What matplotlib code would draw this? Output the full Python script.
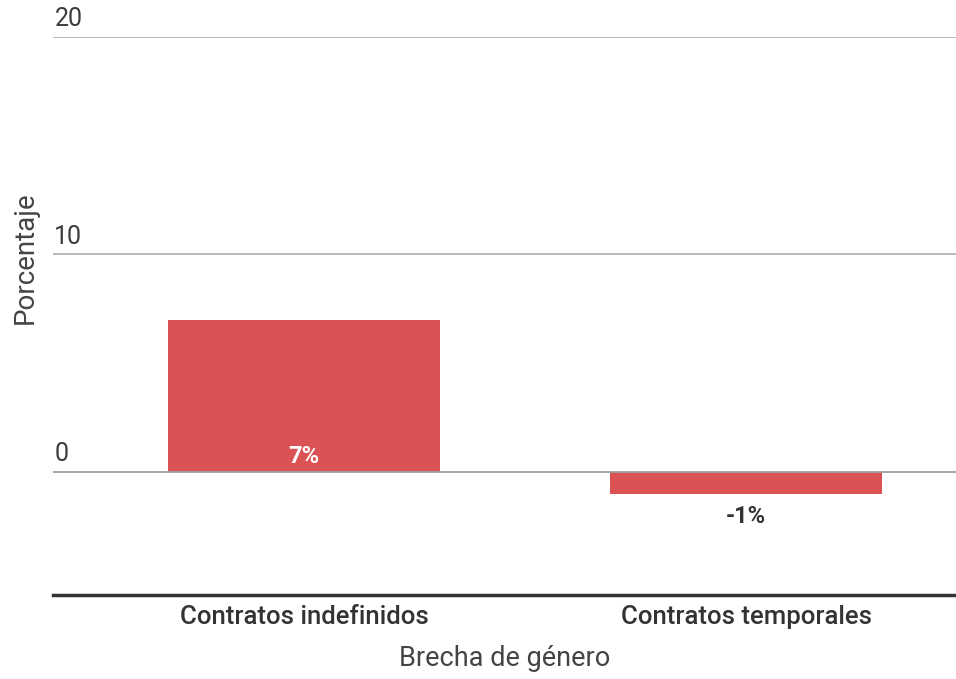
import matplotlib.pyplot as plt

categories = ['Contratos indefinidos', 'Contratos temporales']
values = [7, -1]
value_labels = ['7%', '-1%']
y_ticks = [0, 10, 20]

plt.rcParams['font.family'] = ['Roboto', 'DejaVu Sans']

fig = plt.figure(figsize=(9.56, 6.79), dpi=100)
ax = fig.add_axes([53 / 956, 1 - 595 / 679, 1 - 53 / 956, (595 - 37) / 679])

bar_color = '#db5254'
x = list(range(len(categories)))
ax.bar(x, values, width=0.615, color=bar_color, zorder=2)

ax.set_xlim(-0.568, 1.475)
ax.set_ylim(-5.66, 20)

# gridlines with labels sitting above them
for t in y_ticks:
    ax.axhline(t, color='#b4b4b4' if t else '#a0a0a0', linewidth=1.3, zorder=1 if t else 3)
    ax.annotate(str(t), xy=(0, t), xycoords=('axes fraction', 'data'),
                xytext=(1.0, 4.2), textcoords='offset points',
                ha='left', va='bottom', fontsize=18, color='#3c3c3c')

# value labels
for xi, v, lab in zip(x, values, value_labels):
    if v >= 0:
        ax.text(xi, 0.2, lab, ha='center', va='bottom', fontsize=17,
                fontweight='bold', color='white', zorder=4)
    else:
        ax.text(xi, v - 0.5, lab, ha='center', va='top', fontsize=17,
                fontweight='bold', color='#333333', zorder=4)

ax.set_xticks(x)
ax.set_xticklabels(categories, fontsize=18.5, fontweight='medium', color='#333333')
ax.tick_params(axis='x', length=0, pad=7)
ax.set_yticks([])

for side in ['top', 'right', 'left']:
    ax.spines[side].set_visible(False)
ax.spines['bottom'].set_color('#333333')
ax.spines['bottom'].set_linewidth(2.5)

ax.set_xlabel('Brecha de género', fontsize=19.5, color='#444444', labelpad=12)
fig.text(25 / 956, 1 - 258 / 679, 'Porcentaje', rotation=90, ha='center', va='center',
         fontsize=20, color='#444444')

fig.savefig('out.png', dpi=100)
